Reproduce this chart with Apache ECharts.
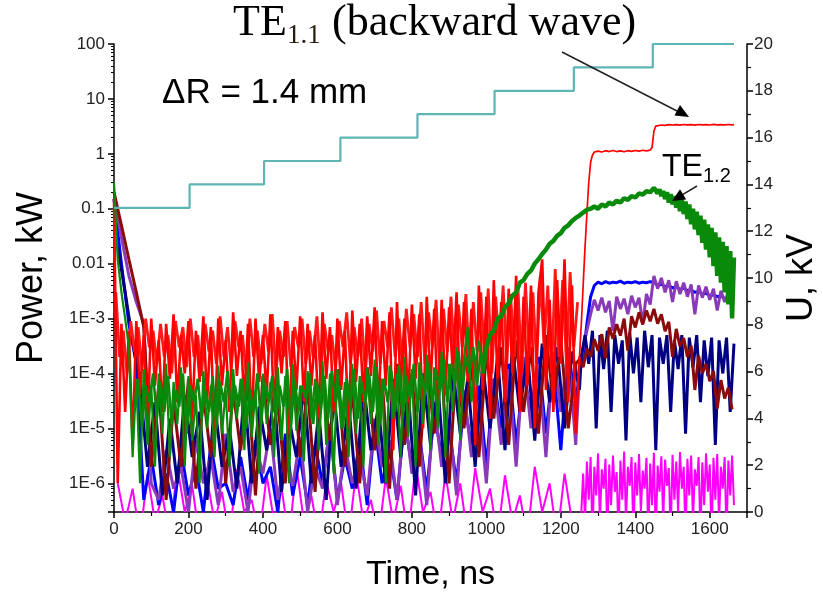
<!DOCTYPE html>
<html>
<head>
<meta charset="utf-8">
<script src="https://cdn.jsdelivr.net/npm/echarts@6/dist/echarts.min.js"></script>
<style>html,body{margin:0;padding:0;background:#fff}#c{width:823px;height:592px}</style>
</head>
<body>
<div id="c"></div>
<script>
// ---- tick labels ----
const powerTickLabels = ['1E-6','1E-5','1E-4','1E-3','0.01','0.1','1','10','100']; // exponents -6..2

// ---- time grids (ns) ----
const tA = [0,10,20,30,40,50,60,70,80,90,100,110,120,130,140,150,160,170,180,190,200,210,220,230,240,250,260,270,280,290,300,310,320,330,340,350,360,370,380,390,400,410,420,430,440,450,460,470,480,490,500,510,520,530,540,550,560,570,580,590,600,610,620,630,640,650,660,670,680,690,700,710,720,730,740,750,760,770,780,790,800,810,820,830,840,850,860,870,880,890,900,910,920,930,940,950,960,970,980,990,1000,1010,1020,1030,1040,1050,1060,1070,1080,1090,1100,1110,1120,1130,1140,1150,1160,1170,1180,1190,1200,1210,1220,1230,1240,1250];
const tA5 = [5,15,25,35,45,55,65,75,85,95,105,115,125,135,145,155,165,175,185,195,205,215,225,235,245,255,265,275,285,295,305,315,325,335,345,355,365,375,385,395,405,415,425,435,445,455,465,475,485,495,505,515,525,535,545,555,565,575,585,595,605,615,625,635,645,655,665,675,685,695,705,715,725,735,745,755,765,775,785,795,805,815,825,835,845,855,865,875,885,895,905,915,925,935,945,955,965,975,985,995,1005,1015,1025,1035,1045,1055,1065,1075,1085,1095,1105,1115,1125,1135,1145,1155,1165,1175,1185,1195,1205,1215,1225,1235,1245];
const tB = [0,20,40,60,80,100,120,140,160,180,200,220,240,260,280,300,320,340,360,380,400,420,440,460,480,500,520,540,560,580,600,620,640,660,680,700,720,740,760,780,800,820,840,860,880,900,920,940,960,980,1000,1020,1040,1060,1080,1100,1120,1140,1160,1180,1200,1220,1240];
const tB2 = [10,30,50,70,90,110,130,150,170,190,210,230,250,270,290,310,330,350,370,390,410,430,450,470,490,510,530,550,570,590,610,630,650,670,690,710,730,750,770,790,810,830,850,870,890,910,930,950,970,990,1010,1030,1050,1070,1090,1110,1130,1150,1170,1190,1210,1230,1250];
const tPost10 = [1250,1260,1270,1280,1290,1300,1310,1320,1330,1340,1350,1360,1370,1380,1390,1400,1410,1420,1430,1440,1450,1460,1470,1480,1490,1500,1510,1520,1530,1540,1550,1560,1570,1580,1590,1600,1610,1620,1630,1640,1650,1660];
const tPost10b = [1255,1265,1275,1285,1295,1305,1315,1325,1335,1345,1355,1365,1375,1385,1395,1405,1415,1425,1435,1445,1455,1465,1475,1485,1495,1505,1515,1525,1535,1545,1555,1565,1575,1585,1595,1605,1615,1625,1635,1645,1655,1665];
const tPost5 = [1255,1260,1265,1270,1275,1280,1285,1290,1295,1300,
  1305,1310,1315,1320,1325,1330,1335,1340,1345,1350,
  1355,1360,1365,1370,1375,1380,1385,1390,1395,1400,
  1405,1410,1415,1420,1425,1430,1435,1440,1445,1450,
  1455,1460,1465,1470,1475,1480,1485,1490,1495,1500,
  1505,1510,1515,1520,1525,1530,1535,1540,1545,1550,
  1555,1560,1565,1570,1575,1580,1585,1590,1595,1600,
  1605,1610,1615,1620,1625,1630,1635,1640,1645,1650,
  1655,1660,1665];
const tRed2 = [1250,1255,1260,1265,1270,1275,1280,1285,1290,1300,1310,1320,1330,1340,1350,1360,1370,1380,1390,1400,1410,1420,1430,1440,1445,1450,1455,1460,1470,1480,1490,1500,1510,1520,1530,1540,1550,1560,1570,1580,1590,1600,1610,1620,1630,1640,1650,1660,1665];
const tG2 = [990,1000,1010,1020,1030,1040,1050,1060,1070,1080,1090,1100,1110,1120,1130,1140,1150,1160,1170,1180,1190,1200,1210,1220,1230,1240,1250,1260,1270,1280,1290,1300,1310,1320,1330,1340,1350,1360,1370,1380,1390,1400,1410,1420,1430,1440,1450];
const tG3 = [1455,1460,1465,1470,1475,1480,1485,1490,1495,1500,1505,1510,1515,1520,1525,1530,1535,1540,1545,1550,1555,1560,1565,1570,1575,1580,1585,1590,1595,1600,1605,1610,1615,1620,1625,1630,1635,1640,1645,1650,1655,1660,1665];

// ---- U, kV (step voltage) ----
const uTimes = [0,203,403,608,815,1022,1235,1447,1665];
const uValues = [13,14,15,16,17,18,19,20,20];

// ---- TE1.1 (red), kW ----
const redPre = [
  0.15,1e-6,8e-4,2e-5,6e-4,5e-6,9e-4,4e-5,5e-4,1e-5,
  1e-3,6e-5,4e-4,2e-5,8e-4,8e-5,1.2e-3,3e-5,5e-4,1e-4,
  9e-4,1.5e-5,6e-4,7e-5,1.1e-3,3e-5,7e-4,5e-6,1e-3,6e-5,
  4e-4,2e-5,1.3e-3,9e-5,6e-4,3e-5,8e-4,1e-5,1e-3,7e-5,
  5e-4,4e-5,1.2e-3,2e-5,7e-4,1e-4,9e-4,8e-6,6e-4,5e-5,
  1.1e-3,3e-5,8e-4,6e-5,5e-4,1.5e-5,1.3e-3,8e-5,7e-4,2e-5,
  1e-3,5e-5,6e-4,1e-5,1.4e-3,7e-5,8e-4,3e-5,1.1e-3,9e-5,
  1.6e-3,2e-5,9e-4,6e-5,1.3e-3,4e-6,2e-3,5e-5,1e-3,3e-5,
  1.8e-3,8e-5,1.2e-3,1e-5,2.5e-3,6e-5,1.5e-3,2e-5,2.2e-3,4e-5,
  1.6e-3,1e-4,3e-3,3e-5,2e-3,7e-5,1.5e-3,5e-6,4e-3,5e-5,
  2.5e-3,1.5e-5,5e-3,8e-5,2e-3,3e-5,3.5e-3,1e-4,6e-3,2e-5,
  2.5e-3,6e-5,4e-3,1e-5,3e-3,1.2e-2,5e-5,2.2e-3,2e-5,5e-3,
  1.5e-4,1.2e-2,3e-5,4e-3,8e-6,2e-4];
const redPre2 = [
  3e-3,2e-4,6e-4,1e-4,9e-4,2.5e-4,7e-4,1.2e-4,1e-3,3e-4,
  6e-4,1.5e-4,8e-4,2e-4,5e-4,1e-4,9e-4,3e-4,7e-4,1.3e-4,
  1e-3,2e-4,5e-4,9e-5,8e-4,2.5e-4,6e-4,1.5e-4,1.1e-3,2e-4,
  7e-4,1.2e-4,9e-4,3e-4,5e-4,1e-4,1e-3,2e-4,6e-4,1.5e-4,
  8e-4,2.5e-4,1.2e-3,1e-4,6e-4,2e-4,9e-4,1.3e-4,7e-4,3e-4,
  1e-3,1.5e-4,6e-4,2e-4,1.1e-3,9e-5,8e-4,2.5e-4,5e-4,1.2e-4,
  9e-4,3e-4,1.3e-3,1.5e-4,7e-4,2e-4,1e-3,1e-4,8e-4,2.5e-4,
  1.4e-3,1.5e-4,9e-4,3e-4,1.6e-3,2e-4,1e-3,1.2e-4,1.5e-3,3e-4,
  1.2e-3,2e-4,2e-3,1.5e-4,1.3e-3,3e-4,2.2e-3,1e-4,1.5e-3,2.5e-4,
  2.5e-3,1.5e-4,1.8e-3,3e-4,2.8e-3,1.2e-4,2e-3,2.5e-4,3e-3,2e-4,
  3.5e-3,1e-4,2.5e-3,3e-4,4e-3,1.5e-4,2.8e-3,2e-4,3.5e-3,1e-4,
  4.5e-3,2e-4,3e-3,1.5e-4,6e-3,3e-4,4e-3,1e-4,8e-3,2e-4,
  5e-3,1.5e-4,7e-3,3e-4,2e-3];
const redPost = [2e-4,8e-4,4e-3,0.02,0.08,0.3,0.7,0.95,1.08,
  1.12,1.08,1.14,1.1,1.15,1.1,1.13,1.09,1.14,1.11,1.15,1.12,1.16,1.13,1.17,
  1.3,2.6,3.2,
  3.3,3.35,3.3,3.4,3.35,3.4,3.32,3.42,3.36,3.4,3.33,3.42,3.36,3.4,3.35,3.43,3.37,3.41,3.36,3.42,3.38,
  3.4];

// ---- TE1.2 (green), kW ----
const greenPre = [
  0.3,0.012,3e-3,1e-3,3e-4,3e-6,8e-5,1e-6,1.2e-4,5e-6,
  6e-5,2e-6,1e-4,8e-6,1.5e-4,3e-6,7e-5,1.2e-5,1.3e-4,2e-6,
  9e-5,6e-6,4e-5,1e-6,1.1e-4,1e-5,6e-5,3e-6,1.4e-4,8e-6,
  5e-5,2e-6,1.2e-4,1.5e-5,8e-5,4e-6,1.6e-4,7e-6,5e-5,1.5e-6,
  1e-4,1.2e-5,7e-5,3e-6,1.3e-4,6e-6,9e-5,1e-6,1.5e-4,9e-6,
  6e-5,2.5e-6,1.1e-4,1.5e-5,8e-5,4e-6,1.7e-4,5e-6,1e-4,1.5e-6,
  1.2e-4,1e-5,7e-5,3e-6,1.5e-4,8e-6,9e-5,2e-6,1.3e-4,1.2e-5,
  1.8e-4,5e-6,8e-5,1e-6,1.4e-4,1.5e-5,1e-4,3e-6,2e-4,7e-6,
  1.2e-4,2e-6,1.6e-4,1.2e-5,2.2e-4,4e-6,1.3e-4,1e-5,2.5e-4,3e-6,
  1.5e-4,2e-5,3e-4,6e-6,2e-4,7e-4,3e-5,1.5e-4,4e-4,1e-4];
const greenPre2 = [
  2e-5,8e-5,1e-5,6e-5,3e-5,1e-4,1.5e-5,7e-5,2e-5,9e-5,
  1.2e-5,5e-5,2.5e-5,1e-4,8e-6,6e-5,3e-5,8e-5,1.5e-5,5e-5,
  2e-5,9e-5,1e-5,7e-5,3e-5,1.1e-4,1.8e-5,6e-5,2.5e-5,8e-5,
  1e-5,5e-5,2e-5,1e-4,1.2e-5,7e-5,3e-5,9e-5,1.5e-5,6e-5,
  2.5e-5,1.2e-4,1e-5,8e-5,2e-5,6e-5,3.5e-5,1e-4,1.2e-5,7e-5,
  2e-5,9e-5,1.5e-5,1.1e-4,3e-5,6e-5,1e-5,8e-5,2.5e-5,1.2e-4,
  1.5e-5,7e-5,3e-5,1e-4,2e-5,1.3e-4,1.2e-5,8e-5,3e-5,1.1e-4,
  2e-5,1.4e-4,1.5e-5,9e-5,3.5e-5,1.5e-4,2e-5,1e-4,4e-5,1.6e-4,
  2.5e-5,1.2e-4,5e-5,1.8e-4,3e-5,1.5e-4,6e-5,2.5e-4,4e-5,2e-4,
  1e-4,3e-4,6e-5,2.5e-4,1.5e-4];
const greenRise = [1e-4,
  3e-4,5e-4,6e-4,1e-3,1.1e-3,1.6e-3,1.9e-3,2.6e-3,3e-3,4.5e-3,
  5e-3,6.5e-3,7.5e-3,1e-2,1.2e-2,1.5e-2,1.8e-2,2.3e-2,2.6e-2,3.2e-2,
  3.6e-2,4.5e-2,5e-2,6e-2,6.8e-2,7.5e-2,8.5e-2,9.5e-2,0.1,0.11,
  0.1,0.12,0.11,0.13,0.12,0.14,0.13,0.155,0.145,0.17,
  0.16,0.19,0.18,0.21,0.2,0.24];
const greenFall = [
  0.24,0.19,0.225,0.17,0.21,0.15,0.2,0.13,0.185,0.12,
  0.17,0.105,0.16,0.09,0.145,0.08,0.135,0.065,0.12,0.052,
  0.1,0.042,0.088,0.033,0.075,0.024,0.063,0.018,0.052,0.013,
  0.045,9e-3,0.037,6e-3,0.03,4.5e-3,0.025,3e-3,0.021,1.8e-3,
  0.017,1e-3,0.013];

// ---- maroon ----
const maroonPre = [
  0.2,0.05,0.012,3e-3,7e-4, 2e-6,6e-5,5e-7,3e-5,2e-6, 8e-5,8e-7,4e-5,3e-6,1e-4,
  1e-6,5e-5,4e-6,7e-5,6e-7, 9e-5,5e-6,3e-5,1e-6,1.1e-4, 3e-6,6e-5,7e-7,8e-5,6e-6,
  1.2e-4,2e-6,5e-5,1e-6,1.3e-4, 4e-6,8e-5,8e-7,1.5e-4,5e-6, 1e-4,2e-6,1.8e-4,8e-6,1.2e-4,
  1e-6,2e-4,1e-5,1.5e-4,3e-6, 2.5e-4,1.5e-5,3e-4,5e-6,4e-4, 2e-5,3e-4,8e-6,5e-4,3e-5,
  4e-4,1e-5,1.5e-4];
const maroonPost = [
  1.8e-4,1.3e-4,2.8e-4,2e-4,4.2e-4, 2.6e-4,5.2e-4,1.9e-4,6.9e-4,4.3e-4,
  7.9e-4,4.9e-4,1e-3,2.6e-4,1.1e-3, 6.9e-4,1.3e-3,7.8e-4,1.4e-3,8.9e-4,
  1.5e-3,8.1e-4,1.2e-3,5.9e-4,8.7e-4, 2e-4,6.5e-4,3.1e-4,4.4e-4,2e-4,
  3.2e-4,5e-5,2.1e-4,1e-4,1.5e-4, 7.2e-5,1.1e-4,2.3e-5,7.6e-5,3.5e-5,
  5.5e-5,2.2e-5];

// ---- blue ----
const bluePre = [
  0.15,0.01,8e-4,1.5e-4,5e-7, 3e-6,4e-7,1.5e-6,3e-7,4e-6, 6e-7,2e-6,3e-7,5e-6,8e-7,
  1e-6,4e-7,3e-6,5e-7,6e-6, 1e-6,2e-6,3e-7,8e-6,6e-7, 3e-6,4e-7,5e-6,1e-6,1e-5,
  5e-7,3e-6,8e-7,6e-6,4e-7, 1.2e-5,1e-6,4e-6,5e-7,1.5e-5, 2e-6,8e-6,7e-7,2e-5,3e-6,
  1e-5,1e-6,3e-5,5e-6,6e-5, 2e-6,8e-5,1e-5,1.5e-4,5e-6, 1e-4,2e-5,2e-4,8e-6,1.5e-4,
  4e-6,2.5e-4,3e-5];
const bluePost = [
  1e-4,2e-4,8e-4,2.5e-3,4e-3, 4.6e-3,4.3e-3,4.7e-3,4.4e-3,4.6e-3,
  4.5e-3,4.8e-3,4.4e-3,4.6e-3,4.5e-3, 4.7e-3,4.4e-3,4.6e-3,4.5e-3,4.7e-3,
  4.6e-3,4e-3,4.2e-3,3.8e-3,4e-3, 3.6e-3,3.8e-3,3.4e-3,3.6e-3,3.2e-3,
  3.3e-3,3e-3,3.1e-3,2.8e-3,2.9e-3, 2.6e-3,2.7e-3,2.5e-3,2.6e-3,2.3e-3,
  2.4e-3,2.2e-3];

// ---- purple ----
const purplePre = [
  0.15,0.03,6e-3,2e-3,8e-4, 1e-6,5e-7,4e-6,8e-7,2e-6, 3e-7,6e-6,1e-6,3e-6,4e-7,
  8e-6,7e-7,2e-6,3e-7,5e-6, 1.5e-6,1e-5,5e-7,3e-6,9e-7, 7e-6,3e-7,2e-6,8e-7,1.2e-5,
  4e-7,5e-6,1e-6,3e-6,6e-7, 1.5e-5,2e-6,6e-6,5e-7,2e-5, 1.5e-6,8e-6,4e-7,3e-5,2e-6,
  1.5e-5,6e-7,5e-5,3e-6,3e-5, 1e-6,8e-5,5e-6,1.2e-4,2e-6, 2e-4,1e-5,1.5e-4,3e-6,2.5e-4,
  2e-5,3e-4,5e-6];
const purplePost = [
  1e-4,3e-4,6e-4,1.2e-3,2.2e-3, 1.4e-3,2.4e-3,1.3e-3,2.1e-3,6e-4,
  2.5e-3,1.5e-3,2.3e-3,1.2e-3,2.6e-3, 1.6e-3,2.4e-3,8e-4,2.8e-3,1.8e-3,
  6e-3,3.5e-3,5.5e-3,3e-3,5e-3, 2e-3,4.8e-3,2.8e-3,4.5e-3,2.5e-3,
  4.2e-3,1.2e-3,4e-3,2.4e-3,3.8e-3, 2.2e-3,3.5e-3,1.4e-3,3.2e-3,2e-3,
  3e-3,1.6e-3];

// ---- navy ----
const navyPre = [
  0.02,3e-3,4e-4,6e-5,2e-6, 3e-5,6e-7,1.5e-5,1e-6,4e-5, 3e-6,2e-5,5e-7,3e-5,2e-6,
  1e-5,8e-7,5e-5,1e-6,2.5e-5, 4e-6,4e-5,7e-7,1.5e-5,3e-6, 6e-5,1e-6,2e-5,5e-7,5e-5,
  2e-6,3e-5,8e-7,7e-5,4e-6, 2.5e-5,1e-6,8e-5,3e-6,5e-5, 6e-7,1e-4,5e-6,6e-5,1e-6,
  1.2e-4,8e-6,8e-5,2e-6,1.5e-4, 1e-5,2e-4,4e-6,3e-4,2e-5, 2.5e-4,6e-6,3.5e-4,3e-5,3e-4,
  1e-5,2.5e-4,5e-5];
const navyPost = [
  2e-4,5e-4,1.5e-4,6e-4,1e-5, 5e-4,1.2e-4,6e-4,2e-5,5e-4,
  1.5e-4,4e-4,6e-6,5.5e-4,1e-4, 4.5e-4,3e-5,6e-4,1.3e-4,5e-4,
  4e-6,4.5e-4,1.5e-4,5e-4,2e-5, 4e-4,1.2e-4,5e-4,8e-6,4.5e-4,
  1.3e-4,5e-4,3e-5,4e-4,9e-5, 4.5e-4,5e-6,4e-4,1e-4,4.5e-4,
  2e-5,3.5e-4];

// ---- magenta ----
const magentaPre = [
  1e-6,2e-7,8e-7,1e-7,1.5e-6, 2e-7,6e-7,1e-7,2e-6,3e-7, 9e-7,1e-7,1.2e-6,2e-7,7e-7,
  1e-7,1.8e-6,3e-7,5e-7,1e-7, 1.4e-6,2e-7,8e-7,1e-7,2e-6, 2e-7,6e-7,1e-7,1.1e-6,3e-7,
  1e-6,1e-7,1.6e-6,2e-7,5e-7, 1e-7,1.3e-6,2e-7,9e-7,1e-7, 2.2e-6,3e-7,7e-7,1e-7,1.5e-6,
  2e-7,1e-6,1e-7,1.9e-6,3e-7, 8e-7,1e-7,1.4e-6,2e-7,6e-7, 1e-7,2e-6,3e-7,1e-6,1e-7,
  1.5e-6,2e-7,1e-7];
const magentaPost = [
  3e-7,1.5e-6,2e-7,2.5e-6,5e-7,3e-6,1e-7,2e-6,6e-7,3.5e-6,
  2e-7,1.8e-6,8e-7,2.8e-6,1e-7,2.2e-6,4e-7,3.2e-6,7e-7,1.6e-6,
  1e-7,2.6e-6,5e-7,3.8e-6,2e-7,2e-6,9e-7,3e-6,1e-7,2.4e-6,
  6e-7,3.4e-6,3e-7,1.7e-6,8e-7,2.9e-6,1e-7,2.3e-6,4e-7,3.6e-6,
  1e-7,2.1e-6,7e-7,3.1e-6,2e-7,2.7e-6,9e-7,1.9e-6,1e-7,3.3e-6,
  5e-7,2.5e-6,3e-7,3.7e-6,8e-7,2e-6,1e-7,2.8e-6,6e-7,3.2e-6,
  2e-7,1.8e-6,9e-7,3e-6,1e-7,2.4e-6,4e-7,3.5e-6,7e-7,2.2e-6,
  1e-7,2.9e-6,5e-7,3.4e-6,2e-7,2e-6,8e-7,3e-6,1e-7,2.6e-6,
  6e-7,3.2e-6,4e-7];

// ---- build ----
const pairs = (t, v) => t.map((x, i) => [x, v[i]]);
const chart = echarts.init(document.getElementById('c'), null, {renderer: 'canvas'});
const SANS = 'Liberation Sans, Arial, sans-serif';
const SERIF = 'Liberation Serif, Times New Roman, serif';

function lineSeries(name, color, data, width, z) {
  return {name, type: 'line', data, showSymbol: false, symbol: 'none', z: z || 2,
    lineStyle: {color, width: width || 1.1}, animation: false, silent: true};
}

const axisCol = '#000';
const option = {
  animation: false,
  backgroundColor: '#fff',
  grid: {left: 114, right: 76, top: 44, bottom: 80, containLabel: false, outerBoundsMode: 'none'},
  xAxis: {
    type: 'value', min: 0, max: 1700, interval: 200,
    name: 'Time, ns', nameLocation: 'middle', nameGap: 46,
    nameTextStyle: {fontSize: 34, fontFamily: SANS, color: '#000'},
    axisLine: {show: true, onZero: false, lineStyle: {color: axisCol, width: 1.5}},
    axisTick: {show: true, length: 6, lineStyle: {color: axisCol, width: 1.5}},
    minorTick: {show: true, splitNumber: 2, length: 4, lineStyle: {color: axisCol, width: 1.2}},
    axisLabel: {fontSize: 17, color: '#222', fontFamily: SANS, margin: 9,
      formatter: v => (v % 200 === 0 && v <= 1600) ? String(v) : ''},
    splitLine: {show: false}
  },
  yAxis: [
    {
      type: 'log', logBase: 10, min: 3e-7, max: 100, position: 'left',
      name: 'Power, kW', nameLocation: 'middle', nameGap: 64, nameRotate: 90,
      nameTextStyle: {fontSize: 36, fontFamily: SANS, color: '#000'},
      axisLine: {show: true, lineStyle: {color: axisCol, width: 1.5}},
      axisTick: {show: true, length: 6, lineStyle: {color: axisCol, width: 1.5}},
      minorTick: {show: true, splitNumber: 9, length: 3, lineStyle: {color: axisCol, width: 1}},
      axisLabel: {fontSize: 17, color: '#222', fontFamily: SANS, margin: 9,
        formatter: v => {
          const e = Math.log10(v);
          const r = Math.round(e);
          if (Math.abs(e - r) > 1e-6) return '';
          const lab = powerTickLabels[r + 6];
          return lab === undefined ? '' : lab;
        }},
      splitLine: {show: false}, minorSplitLine: {show: false}
    },
    {
      type: 'value', min: 0, max: 20, interval: 2, position: 'right',
      name: 'U, kV', nameLocation: 'middle', nameGap: 36, nameRotate: 90,
      nameTextStyle: {fontSize: 36, fontFamily: SANS, color: '#000'},
      axisLine: {show: true, lineStyle: {color: axisCol, width: 1.5}},
      axisTick: {show: true, length: 6, lineStyle: {color: axisCol, width: 1.5}},
      minorTick: {show: true, splitNumber: 2, length: 4, lineStyle: {color: axisCol, width: 1.2}},
      axisLabel: {fontSize: 17, color: '#222', fontFamily: SANS, margin: 7},
      splitLine: {show: false}
    }
  ],
  series: [
    lineSeries('magenta', '#ff00ff', pairs(tB2, magentaPre).concat(pairs(tPost5, magentaPost)), 2, 2),
    lineSeries('blue', '#0000ff', pairs(tB, bluePre).concat(pairs(tPost10, bluePost)), 3, 2),
    lineSeries('purple', '#8a3ab9', pairs(tB, purplePre).concat(pairs(tPost10, purplePost)), 3, 2),
    lineSeries('navy', '#000080', pairs(tB2, navyPre).concat(pairs(tPost10b, navyPost)), 3, 2),
    lineSeries('maroon', '#8b0a0a', pairs(tB, maroonPre).concat(pairs(tPost10, maroonPost)), 3, 2),
    lineSeries('TE1.1 noise b', '#ff1a1a', pairs(tA5, redPre2), 2.8, 3),
    lineSeries('TE1.1 noise', '#ff0000', pairs(tA, redPre), 2.6, 3),
    lineSeries('TE1.1', '#ff0000', pairs(tRed2, redPost), 1.7, 3),
    lineSeries('TE1.2 noise b', '#0a8a0a', pairs(tA5.slice(5, 100), greenPre2), 2.6, 4),
    lineSeries('TE1.2 noise', '#0a8a0a', pairs(tA.slice(0, greenPre.length), greenPre), 2.2, 4),
    lineSeries('TE1.2', '#0a8a0a', pairs(tG2, greenRise).concat(pairs(tG3, greenFall)), 4.5, 4),
    {name: 'U', type: 'line', yAxisIndex: 1, step: 'end', data: pairs(uTimes, uValues),
      showSymbol: false, symbol: 'none', z: 5, lineStyle: {color: '#5fb4b4', width: 2.2}, animation: false}
  ],
  graphic: [
    {type: 'text', left: 162, top: 76, z: 10, style: {text: 'ΔR = 1.4 mm', fontSize: 35, fontFamily: SANS, fill: '#000'}},
    {type: 'text', x: 233, y: 23, z: 10, style: {text: 'TE', fontSize: 44, fontFamily: SERIF, fill: '#000', verticalAlign: 'middle'}},
    {type: 'text', x: 287, y: 36, z: 10, style: {text: '1.1', fontSize: 27, fontFamily: SERIF, fill: '#2a1c0c', verticalAlign: 'middle'}},
    {type: 'text', x: 332, y: 23, z: 10, style: {text: '(backward wave)', fontSize: 44, fontFamily: SERIF, fill: '#000', verticalAlign: 'middle'}},
    {type: 'text', x: 662, y: 167, z: 10, style: {text: 'TE', fontSize: 32, fontFamily: SANS, fill: '#000', verticalAlign: 'middle'}},
    {type: 'text', x: 703, y: 176, z: 10, style: {text: '1.2', fontSize: 20, fontFamily: SANS, fill: '#000', verticalAlign: 'middle'}},
    {type: 'line', z: 10, shape: {x1: 562, y1: 52, x2: 677, y2: 111}, style: {stroke: '#222', lineWidth: 1.5}},
    {type: 'polygon', z: 10, shape: {points: [[689, 117], [674.5, 115.5], [680, 105]]}, style: {fill: '#000'}},
    {type: 'line', z: 10, shape: {x1: 697, y1: 186, x2: 683, y2: 194.3}, style: {stroke: '#222', lineWidth: 1.5}},
    {type: 'polygon', z: 10, shape: {points: [[672, 201], [680, 189.2], [686.2, 199.4]]}, style: {fill: '#000'}}
  ]
};
chart.setOption(option);
</script>
</body>
</html>
